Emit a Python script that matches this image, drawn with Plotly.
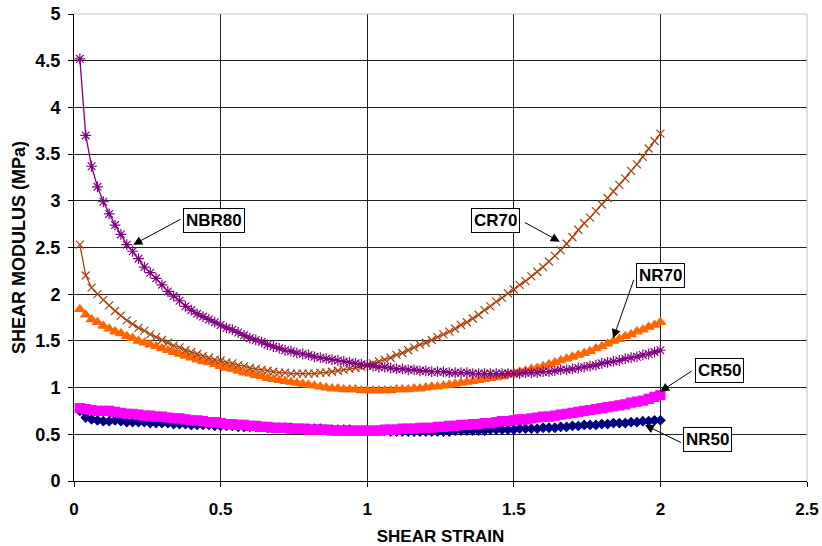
import plotly.graph_objects as go

strain = [
    0.02, 0.04, 0.06, 0.08, 0.10, 0.12, 0.14, 0.16, 0.18, 0.20,
    0.22, 0.24, 0.26, 0.28, 0.30, 0.32, 0.34, 0.36, 0.38, 0.40,
    0.42, 0.44, 0.46, 0.48, 0.50, 0.52, 0.54, 0.56, 0.58, 0.60,
    0.62, 0.64, 0.66, 0.68, 0.70, 0.72, 0.74, 0.76, 0.78, 0.80,
    0.82, 0.84, 0.86, 0.88, 0.90, 0.92, 0.94, 0.96, 0.98, 1.00,
    1.02, 1.04, 1.06, 1.08, 1.10, 1.12, 1.14, 1.16, 1.18, 1.20,
    1.22, 1.24, 1.26, 1.28, 1.30, 1.32, 1.34, 1.36, 1.38, 1.40,
    1.42, 1.44, 1.46, 1.48, 1.50, 1.52, 1.54, 1.56, 1.58, 1.60,
    1.62, 1.64, 1.66, 1.68, 1.70, 1.72, 1.74, 1.76, 1.78, 1.80,
    1.82, 1.84, 1.86, 1.88, 1.90, 1.92, 1.94, 1.96, 1.98, 2.00,
]

nbr80 = [
    4.52, 3.70, 3.37, 3.15, 2.99, 2.86, 2.74, 2.64, 2.53, 2.46,
    2.38, 2.29, 2.23, 2.17, 2.10, 2.03, 1.98, 1.93, 1.87, 1.83,
    1.79, 1.76, 1.73, 1.70, 1.67, 1.64, 1.62, 1.59, 1.56, 1.53,
    1.51, 1.49, 1.46, 1.44, 1.42, 1.40, 1.39, 1.37, 1.36, 1.35,
    1.33, 1.32, 1.31, 1.30, 1.29, 1.28, 1.27, 1.26, 1.25, 1.24,
    1.23, 1.22, 1.22, 1.21, 1.20, 1.20, 1.19, 1.19, 1.18, 1.18,
    1.17, 1.17, 1.17, 1.16, 1.16, 1.16, 1.16, 1.15, 1.15, 1.15,
    1.15, 1.15, 1.15, 1.15, 1.15, 1.15, 1.16, 1.16, 1.16, 1.17,
    1.17, 1.18, 1.19, 1.19, 1.20, 1.21, 1.22, 1.23, 1.24, 1.26,
    1.27, 1.28, 1.29, 1.31, 1.32, 1.33, 1.35, 1.36, 1.38, 1.40,
]

cr70 = [
    2.53, 2.20, 2.07, 2.00, 1.94, 1.88, 1.82, 1.77, 1.72, 1.68,
    1.64, 1.61, 1.57, 1.54, 1.51, 1.48, 1.45, 1.43, 1.40, 1.38,
    1.36, 1.34, 1.32, 1.30, 1.29, 1.27, 1.26, 1.24, 1.23, 1.21,
    1.20, 1.19, 1.18, 1.17, 1.16, 1.16, 1.15, 1.15, 1.15, 1.15,
    1.15, 1.16, 1.16, 1.17, 1.18, 1.19, 1.20, 1.21, 1.22, 1.24,
    1.26, 1.28, 1.30, 1.32, 1.35, 1.37, 1.40, 1.43, 1.46, 1.48,
    1.51, 1.54, 1.57, 1.60, 1.63, 1.67, 1.70, 1.74, 1.78, 1.83,
    1.87, 1.92, 1.96, 2.01, 2.05, 2.10, 2.14, 2.19, 2.24, 2.29,
    2.35, 2.41, 2.47, 2.54, 2.61, 2.69, 2.76, 2.82, 2.89, 2.96,
    3.03, 3.10, 3.17, 3.24, 3.32, 3.39, 3.47, 3.56, 3.64, 3.72,
]

nr70 = [
    1.84, 1.78, 1.73, 1.70, 1.66, 1.63, 1.60, 1.58, 1.55, 1.53,
    1.50, 1.48, 1.46, 1.44, 1.42, 1.40, 1.38, 1.36, 1.34, 1.32,
    1.30, 1.28, 1.27, 1.25, 1.23, 1.21, 1.20, 1.18, 1.16, 1.15,
    1.13, 1.12, 1.10, 1.09, 1.08, 1.07, 1.06, 1.05, 1.04, 1.03,
    1.02, 1.01, 1.00, 0.99, 0.99, 0.98, 0.98, 0.98, 0.97, 0.97,
    0.97, 0.97, 0.97, 0.97, 0.98, 0.98, 0.98, 0.99, 0.99, 1.00,
    1.01, 1.01, 1.02, 1.03, 1.04, 1.05, 1.06, 1.07, 1.08, 1.09,
    1.10, 1.11, 1.12, 1.14, 1.15, 1.17, 1.18, 1.20, 1.21, 1.23,
    1.25, 1.27, 1.29, 1.31, 1.33, 1.35, 1.37, 1.39, 1.42, 1.44,
    1.47, 1.50, 1.52, 1.55, 1.57, 1.60, 1.62, 1.65, 1.67, 1.70,
]

cr50 = [
    0.78, 0.77, 0.76, 0.75, 0.75, 0.75, 0.74, 0.73, 0.72, 0.72,
    0.71, 0.70, 0.70, 0.69, 0.69, 0.68, 0.67, 0.67, 0.66, 0.65,
    0.65, 0.64, 0.63, 0.63, 0.62, 0.61, 0.61, 0.60, 0.60, 0.59,
    0.59, 0.58, 0.58, 0.57, 0.57, 0.57, 0.56, 0.56, 0.56, 0.55,
    0.55, 0.55, 0.55, 0.54, 0.54, 0.54, 0.54, 0.54, 0.54, 0.54,
    0.54, 0.54, 0.55, 0.55, 0.55, 0.56, 0.56, 0.56, 0.57, 0.57,
    0.57, 0.58, 0.58, 0.59, 0.59, 0.60, 0.60, 0.61, 0.61, 0.62,
    0.62, 0.63, 0.64, 0.64, 0.65, 0.66, 0.66, 0.67, 0.68, 0.69,
    0.69, 0.70, 0.71, 0.72, 0.73, 0.74, 0.75, 0.76, 0.77, 0.78,
    0.79, 0.80, 0.81, 0.82, 0.84, 0.85, 0.86, 0.88, 0.90, 0.92,
]

nr50 = [
    0.75, 0.68, 0.66, 0.65, 0.64, 0.64, 0.65, 0.64, 0.63, 0.63,
    0.63, 0.63, 0.62, 0.62, 0.62, 0.62, 0.61, 0.61, 0.61, 0.60,
    0.60, 0.60, 0.60, 0.59, 0.59, 0.59, 0.59, 0.58, 0.58, 0.58,
    0.58, 0.58, 0.57, 0.57, 0.57, 0.57, 0.57, 0.56, 0.56, 0.56,
    0.56, 0.56, 0.55, 0.55, 0.55, 0.55, 0.55, 0.54, 0.54, 0.54,
    0.54, 0.54, 0.54, 0.53, 0.53, 0.53, 0.53, 0.53, 0.53, 0.53,
    0.53, 0.53, 0.53, 0.53, 0.54, 0.54, 0.54, 0.54, 0.54, 0.54,
    0.55, 0.55, 0.55, 0.55, 0.55, 0.56, 0.56, 0.56, 0.56, 0.57,
    0.57, 0.57, 0.58, 0.58, 0.59, 0.59, 0.60, 0.60, 0.60, 0.61,
    0.61, 0.62, 0.62, 0.62, 0.63, 0.63, 0.64, 0.64, 0.65, 0.65,
]

x_ticks = [0, 0.5, 1, 1.5, 2, 2.5]
y_ticks = [0, 0.5, 1, 1.5, 2, 2.5, 3, 3.5, 4, 4.5, 5]

# label: (box center x, y), (arrow tail x, y), (arrow tip x, y)
labels = {
    "NBR80": ((0.478, 2.79), (0.368, 2.81), (0.202, 2.53)),
    "CR70": ((1.439, 2.79), (1.533, 2.776), (1.657, 2.562)),
    "NR70": ((2.002, 2.20), (1.911, 2.17), (1.839, 1.528)),
    "CR50": ((2.203, 1.183), (2.112, 1.188), (1.999, 0.956)),
    "NR50": ((2.162, 0.442), (2.075, 0.404), (1.947, 0.60)),
}

FONT = "Arial, Liberation Sans, sans-serif"

fig = go.Figure()

series = [
    ("NR50", nr50, "#000080", "diamond", 7),
    ("CR50", cr50, "#FF00FF", "square", 9),
    ("NR70", nr70, "#FF6600", "triangle-up", 9),
    ("CR70", cr70, "#A8420E", "x-thin-open", 8),
    ("NBR80", nbr80, "#800080", "asterisk-open", 9),
]
for name, ys, col, sym, sz in series:
    fig.add_trace(go.Scatter(
        x=strain, y=ys, name=name, mode="lines+markers",
        line=dict(color=col, width=1.3),
        marker=dict(symbol=sym, size=sz, color=col, line=dict(color=col, width=1.2)),
        showlegend=False,
    ))

annotations = []
for text, (box, tail, tip) in labels.items():
    annotations.append(dict(
        x=tip[0], y=tip[1], ax=tail[0], ay=tail[1], axref="x", ayref="y",
        xref="x", yref="y", text="", showarrow=True, arrowhead=2,
        arrowsize=1.8, arrowwidth=1, arrowcolor="black", standoff=0, startstandoff=0,
    ))
    annotations.append(dict(
        x=box[0], y=box[1], xref="x", yref="y", text=text, showarrow=False,
        font=dict(family=FONT, size=17, color="black", weight="bold"),
        bgcolor="white", bordercolor="black", borderwidth=1, borderpad=2,
    ))

fig.update_layout(
    width=822, height=546,
    margin=dict(l=74, r=15, t=14, b=65),
    paper_bgcolor="white", plot_bgcolor="white",
    annotations=annotations,
    shapes=[
        dict(type="line", xref="paper", yref="paper", x0=0, x1=1, y0=1, y1=1,
             line=dict(color="#C0C0C0", width=1), layer="above"),
        dict(type="line", xref="paper", yref="paper", x0=1, x1=1, y0=0, y1=1,
             line=dict(color="#C0C0C0", width=1), layer="above"),
    ],
)

fig.update_xaxes(
    range=[0, 2.5], tickvals=x_ticks, ticktext=[str(v) for v in x_ticks],
    automargin=False,
    showline=True, linecolor="black", linewidth=1,
    ticks="outside", ticklen=5, tickcolor="black", ticklabelstandoff=8,
    showgrid=True, gridcolor="#222222", gridwidth=1, zeroline=False,
    tickfont=dict(family=FONT, size=17, color="black", weight="bold"),
    title=dict(text="SHEAR STRAIN", font=dict(family=FONT, size=17, color="black", weight="bold"), standoff=14),
)
fig.update_yaxes(
    range=[0, 5], tickvals=y_ticks, ticktext=[str(v) for v in y_ticks],
    automargin=False,
    showline=True, linecolor="black", linewidth=1,
    ticks="outside", ticklen=5, tickcolor="black", ticklabelstandoff=4,
    showgrid=True, gridcolor="#222222", gridwidth=1, zeroline=False,
    tickfont=dict(family=FONT, size=18, color="black", weight="bold"),
    title=dict(text="SHEAR MODULUS (MPa)", font=dict(family=FONT, size=18, color="black", weight="bold"), standoff=5),
)

fig.write_html("out.html")
